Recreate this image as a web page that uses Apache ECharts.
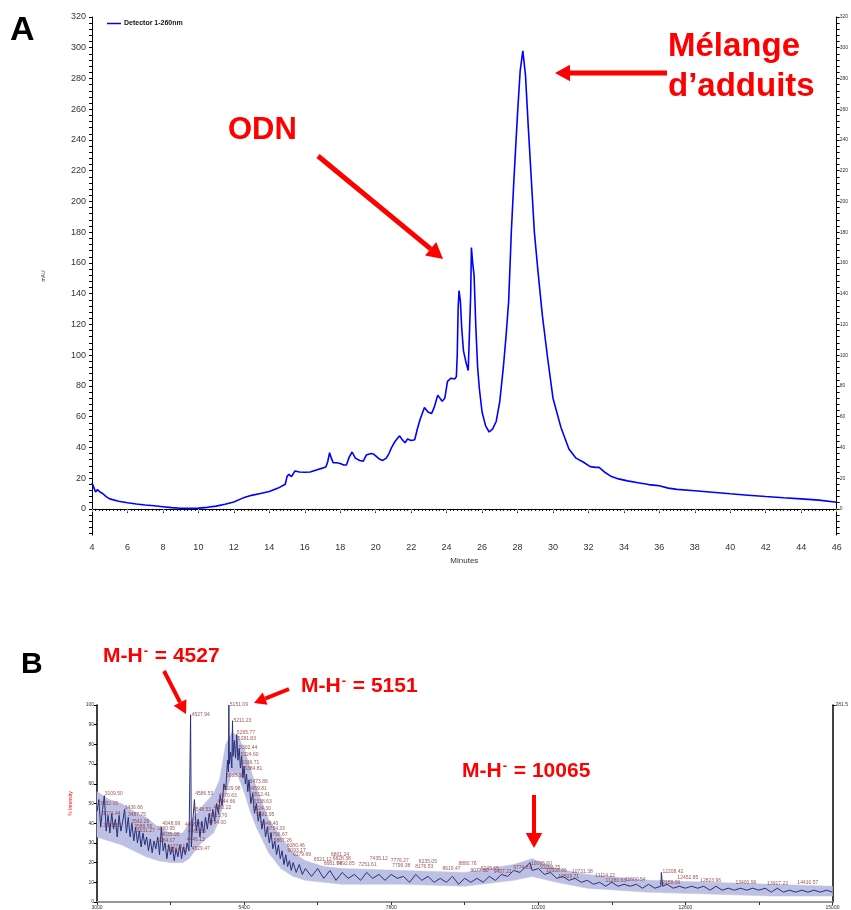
<!DOCTYPE html>
<html>
<head>
<meta charset="utf-8">
<script src="https://cdn.jsdelivr.net/npm/echarts@6/dist/echarts.min.js"></script>
<style>
  html, body { margin: 0; padding: 0; background: #fff; }
  #chart { width: 851px; height: 910px; }
</style>
</head>
<body>
<div id="chart"></div>
<script>
// chromatogram (panel A): minutes / mAU
var chromT = [
  4.0, 4.1, 4.2, 4.3, 4.45, 4.6, 4.8, 5.0, 5.5, 6,
  6.5, 7, 7.5, 8, 8.5, 9, 9.5, 10, 10.5, 11,
  11.5, 12, 12.5, 13, 13.5, 14, 14.5, 14.9, 15.0, 15.1,
  15.25, 15.45, 15.7, 16.0, 16.3, 16.7, 17.0, 17.2, 17.3, 17.4,
  17.5, 17.6, 17.8, 18.0, 18.2, 18.35, 18.5, 18.67, 18.85, 19.1,
  19.3, 19.47, 19.6, 19.75, 19.9, 20.05, 20.2, 20.4, 20.6, 20.75,
  20.9, 21.1, 21.35, 21.5, 21.65, 21.8, 22.0, 22.2, 22.35, 22.5,
  22.75, 22.95, 23.15, 23.3, 23.5, 23.75, 23.9, 24.05, 24.25, 24.45,
  24.55, 24.6, 24.65, 24.7, 24.78, 24.85, 24.95, 25.1, 25.22, 25.3,
  25.36, 25.4, 25.47, 25.55, 25.65, 25.75, 25.85, 26.0, 26.2, 26.4,
  26.6, 26.8, 27.0, 27.2, 27.35, 27.5, 27.65, 27.8, 28.0, 28.15,
  28.3, 28.45, 28.6, 28.75, 28.95, 29.15, 29.4, 29.7, 30.0, 30.45,
  30.9, 31.3, 31.7, 32.1, 32.4, 32.6, 32.9, 33.3, 33.7, 34.2,
  34.8, 35.4, 35.8, 36.0, 36.5, 37, 38, 39, 40, 41,
  42, 43, 44, 45, 46
];
var chromA = [
  17, 14, 11, 12.5, 11, 10, 8, 6.5, 5, 4,
  3.2, 2.5, 2, 1.4, 0.8, 0.4, 0.3, 0.5, 1, 1.8,
  3, 4.5, 7, 8.8, 10, 11.3, 13.5, 16, 21, 22.5,
  21, 24.7, 24, 23.8, 24, 25.5, 26.5, 27.4, 31, 36.5,
  33, 30, 30, 29.5, 28.5, 28.5, 33.5, 37, 33, 31.5,
  31, 35, 35.5, 36, 35.5, 34, 32.5, 31.5, 33, 36,
  40, 44, 47.5, 45, 43, 45.4, 44.5, 45, 52, 58,
  66, 63, 62, 66, 74, 70, 72, 83, 85, 84.5,
  86, 100, 130, 142, 135, 118, 103, 95, 90, 91,
  140, 170, 160, 152, 118, 92, 78, 63, 54, 50,
  52, 57, 70, 92, 112, 135, 180, 215, 257, 285,
  298, 282, 250, 220, 180, 155, 126, 98, 72, 53,
  39, 33, 30.5, 27.5, 27, 27, 24, 21, 19.5, 18.2,
  17, 15.8, 15.3, 15, 13.5, 12.7, 11.8, 10.8, 9.8, 8.9,
  8, 7.2, 6.5, 5.7, 4.3
];

// mass spectrum (panel B): m/z / % intensity
var specM = [
  3000, 3030, 3060, 3090, 3120, 3150, 3180, 3210, 3240, 3270,
  3300, 3330, 3360, 3390, 3420, 3450, 3480, 3510, 3540, 3570,
  3600, 3630, 3660, 3690, 3720, 3750, 3780, 3810, 3840, 3870,
  3900, 3930, 3960, 3990, 4020, 4050, 4080, 4110, 4140, 4170,
  4200, 4230, 4260, 4290, 4320, 4350, 4380, 4410, 4440, 4470,
  4500, 4515, 4527, 4540, 4560, 4590, 4620, 4650, 4680, 4710,
  4740, 4770, 4800, 4830, 4860, 4890, 4920, 4950, 4980, 5010,
  5040, 5070, 5100, 5130, 5145, 5151, 5160, 5180, 5200, 5211,
  5220, 5240, 5260, 5280, 5300, 5320, 5340, 5360, 5380, 5400,
  5420, 5440, 5460, 5480, 5510, 5540, 5570, 5600, 5630, 5660,
  5690, 5720, 5750, 5780, 5810, 5840, 5870, 5900, 5930, 5960,
  5990, 6020, 6050, 6080, 6110, 6140, 6170, 6200, 6250, 6300,
  6350, 6400, 6500, 6600, 6700, 6800, 6900, 7000, 7100, 7200,
  7300, 7400, 7500, 7600, 7700, 7800, 7900, 8000, 8100, 8200,
  8300, 8400, 8500, 8600, 8700, 8800, 8900, 9000, 9100, 9200,
  9300, 9400, 9500, 9600, 9700, 9800, 9900, 10000, 10065, 10100,
  10200, 10300, 10400, 10500, 10600, 10700, 10800, 10900, 11000, 11100,
  11200, 11300, 11400, 11500, 11600, 11700, 11800, 11900, 12000, 12100,
  12200, 12208, 12230, 12300, 12400, 12500, 12600, 12700, 12800, 12900,
  13000, 13100, 13200, 13300, 13400, 13500, 13600, 13700, 13800, 13900,
  14000, 14100, 14200, 14300, 14400, 14500, 14600, 14700, 14800, 14900,
  15000
];
var specI = [
  46, 52, 38, 47, 54, 36, 44, 35, 45, 37,
  42, 33, 44, 36, 41, 47, 35, 43, 33, 40,
  31, 38, 30, 36, 28, 35, 29, 33, 26, 32,
  25, 31, 27, 33, 24, 38, 26, 30, 22, 29,
  24, 28, 21, 27, 23, 29, 22, 28, 24, 30,
  26, 27, 95, 28, 40, 52, 36, 42, 33, 41,
  35, 43, 37, 45, 39, 47, 41, 50, 45, 54,
  49, 60, 57, 72, 66, 100, 70, 76, 68, 92,
  74, 82, 73, 85, 72, 78, 68, 74, 63, 69,
  60, 65, 56, 62, 50, 55, 45, 50, 41, 46,
  37, 42, 33, 38, 30, 35, 27, 31, 24, 29,
  22, 26, 19, 24, 18, 21, 16, 20, 15, 19,
  14, 17, 13, 17, 12, 16, 11, 15, 12, 14,
  11, 15, 12, 14, 11, 14, 12, 13, 10, 14,
  11, 13, 10, 12, 10, 13, 9, 12, 10, 12,
  10, 13, 11, 14, 13, 16, 15, 18, 20, 16,
  17, 14, 15, 12, 13, 11, 12, 10, 11, 9,
  10, 8, 10, 8, 9, 8, 9, 7, 9, 7,
  8, 15, 8, 9, 7, 8, 7, 8, 7, 8,
  6, 8, 6, 7, 6, 7, 6, 7, 6, 7,
  5, 7, 5, 6, 5, 6, 5, 6, 5, 6,
  5
];

// light noise band around the spectrum
var bandM    = [3000, 3200, 3400, 3600, 3800, 4000, 4200, 4400, 4500, 4700, 4900, 5000, 5100, 5200, 5300, 5400, 5500, 5600, 5800, 6000, 6200, 6400, 6700, 7000, 8000, 9000, 9800, 10100, 10500, 11000, 12000, 13000, 14000, 15000];
var bandLow  = [33, 31, 29, 26, 23, 21, 20, 20, 22, 30, 35, 42, 55, 66, 64, 56, 46, 38, 25, 17, 13, 11, 10, 9, 9, 8, 11, 13, 10, 7, 5, 4, 3, 3];
var bandHigh = [56, 52, 50, 46, 43, 38, 35, 35, 40, 48, 55, 62, 80, 86, 84, 78, 68, 58, 42, 33, 25, 21, 18, 17, 16, 15, 19, 22, 17, 14, 11, 10, 9, 8];

// peak labels printed on the spectrum
var peakM = [3032.16, 3071.44, 3085.63, 3109.50, 3436.66, 3487.75, 3542.29, 3589.56, 3631.27, 4048.99,
  3960.95, 4035.95, 3964.17, 4127.31, 4157.50, 4527.94, 4586.53, 4548.53, 4418.76, 4462.30,
  4446.13, 4529.47, 4815.70, 4794.00, 4880.22, 4944.66, 4970.63, 5029.98, 5088.38, 5151.09,
  5211.23, 5265.77, 5281.83, 5302.44, 5324.60, 5336.71, 5384.81, 5473.86, 5459.81, 5512.41,
  5538.63, 5524.30, 5582.95, 5648.40, 5754.33, 5796.67, 5867.26, 6080.46, 6093.17, 6179.69,
  6521.12, 6681.74, 6801.24, 6828.38, 6892.85, 7435.12, 7251.61, 7776.27, 7799.38, 8235.05,
  8176.53, 8619.47, 8880.76, 9077.90, 9245.65, 9457.21, 9774.83, 10065.60, 10202.75, 10308.66,
  10731.38, 10509.71, 11114.22, 11280.63, 11600.54, 12208.42, 12159.06, 12452.85, 12823.96, 13400.96,
  13917.23, 14410.57];
var peakI = [50, 45, 39, 55, 48, 44.5, 41, 38.5, 36, 40,
  37, 34, 31, 28, 26, 95, 55, 47, 39.5, 35.5,
  31.5, 27, 44, 40.5, 48, 51, 54, 57.5, 64, 100,
  92, 86, 83, 78.5, 75, 71, 67.5, 61, 57.5, 54.5,
  51, 47.5, 44.5, 40, 37, 34, 31, 28.5, 26, 24,
  21.5, 19.5, 24, 22, 19.5, 22, 19, 21, 18.5, 20.5,
  18, 17, 19.5, 16, 17, 15.5, 17.5, 19.5, 17.5, 16,
  15.5, 13, 13.5, 11, 11.5, 15.5, 10, 12.5, 11, 10,
  9.5, 10];

var yTicksA = [0, 20, 40, 60, 80, 100, 120, 140, 160, 180, 200, 220, 240, 260, 280, 300, 320];
var xTicksB = [3000, 5400, 7800, 10200, 12600, 15000];

var FONT = 'Liberation Sans, Arial, sans-serif';
var RED = '#ff0000';

var minorA = [];
for (var v = -16; v <= 320; v += 4) minorA.push(v);
var minorB = [];
for (var m = 3000; m <= 15000; m += 1200) minorB.push(m);

function zip(a, b) {
  var out = [];
  for (var i = 0; i < a.length; i++) out.push([a[i], b[i]]);
  return out;
}

function arrow(x1, y1, x2, y2, w, head) {
  var dx = x2 - x1, dy = y2 - y1, L = Math.sqrt(dx * dx + dy * dy);
  var ux = dx / L, uy = dy / L;
  var bx = x2 - ux * head, by = y2 - uy * head;
  var hw = head * 0.55;
  return [
    { type: 'line', shape: { x1: x1, y1: y1, x2: bx, y2: by }, style: { stroke: RED, lineWidth: w } },
    { type: 'polygon', shape: { points: [[x2, y2], [bx - uy * hw, by + ux * hw], [bx + uy * hw, by - ux * hw]] }, style: { fill: RED } }
  ];
}

function mh(txt, left, top) {
  return {
    type: 'text', left: left, top: top,
    style: {
      text: '{a|M-H}{s|-}{a| = ' + txt + '}',
      rich: {
        a: { fontFamily: FONT, fontWeight: 'bold', fontSize: 21, fill: RED },
        s: { fontFamily: FONT, fontWeight: 'bold', fontSize: 13, fill: RED, padding: [0, 1, 10, 1] }
      }
    }
  };
}

var myChart = echarts.init(document.getElementById('chart'));

// band quads between neighbouring points, drawn through the axis scale
function renderBand(params, api) {
  var i = params.dataIndex;
  if (i >= bandM.length - 1) return null;
  var p1 = api.coord([bandM[i], bandHigh[i]]);
  var p2 = api.coord([bandM[i + 1], bandHigh[i + 1]]);
  var p3 = api.coord([bandM[i + 1], bandLow[i + 1]]);
  var p4 = api.coord([bandM[i], bandLow[i]]);
  return {
    type: 'polygon',
    shape: { points: [p1, p2, p3, p4] },
    style: { fill: '#bcc0e3', stroke: '#bcc0e3', lineWidth: 0.5 }
  };
}

var bandData = [];
for (var k = 0; k < bandM.length; k++) bandData.push([bandM[k], bandLow[k], bandHigh[k]]);

var peakData = [];
for (var p = 0; p < peakM.length; p++) peakData.push([peakM[p], peakI[p], peakM[p].toFixed(2)]);

var graphics = [
  { type: 'text', left: 10, top: 14, style: { text: 'A', fontFamily: FONT, fontWeight: 'bold', fontSize: 34, fill: '#000' } },
  { type: 'text', left: 21, top: 650, style: { text: 'B', fontFamily: FONT, fontWeight: 'bold', fontSize: 30, fill: '#000' } },
  { type: 'text', left: 228, top: 115, style: { text: 'ODN', fontFamily: FONT, fontWeight: 'bold', fontSize: 31, fill: RED } },
  { type: 'text', left: 668, top: 30, style: { text: 'Mélange', fontFamily: FONT, fontWeight: 'bold', fontSize: 33, fill: RED } },
  { type: 'text', left: 668, top: 70, style: { text: 'd\u2019adduits', fontFamily: FONT, fontWeight: 'bold', fontSize: 33, fill: RED } },
  mh('4527', 103, 645),
  mh('5151', 301, 675),
  mh('10065', 462, 760)
];
graphics = graphics
  .concat(arrow(318, 156, 443, 259, 5, 16))
  .concat(arrow(667, 73, 555, 73, 5, 15))
  .concat(arrow(164, 671, 186, 714, 4, 13))
  .concat(arrow(289, 689, 254, 703, 4, 12))
  .concat(arrow(534, 795, 534, 848, 4, 15));

var option = {
  animation: false,
  backgroundColor: '#fff',
  textStyle: { fontFamily: FONT },
  legend: {
    data: ['Detector 1-260nm'],
    left: 102, top: 15,
    icon: 'rect', itemWidth: 14, itemHeight: 1.5, itemGap: 4,
    textStyle: { fontSize: 7, fontWeight: 'bold', color: '#111', padding: [0, 0, 0, -2] }
  },
  grid: [
    { left: 92, right: 13, top: 17, height: 518 },
    { left: 97, right: 14, top: 705, height: 197 }
  ],
  xAxis: [
    {
      gridIndex: 0, type: 'value', min: 4, max: 46, interval: 2, position: 'bottom',
      axisLine: { lineStyle: { color: '#000', width: 1 } },
      axisTick: { length: 4, lineStyle: { color: '#000' } },
      minorTick: { show: true, splitNumber: 10, length: 2, lineStyle: { color: '#000' } },
      splitLine: { show: false },
      axisLabel: { fontSize: 9, color: '#333', margin: 8 },
      name: 'Minutes', nameLocation: 'middle', nameGap: 20,
      nameTextStyle: { fontSize: 8, color: '#333' }
    },
    {
      gridIndex: 0, type: 'value', min: 4, max: 46, interval: 2, position: 'top',
      axisLine: { lineStyle: { color: '#000', width: 1 } },
      axisTick: { inside: true, length: 3, lineStyle: { color: '#999' } },
      splitLine: { show: false },
      axisLabel: { show: false }
    },
    {
      gridIndex: 1, type: 'value', min: 3000, max: 15000,
      axisLine: { lineStyle: { color: '#999', width: 2 } },
      axisTick: { customValues: minorB, length: 3, lineStyle: { color: '#333' } },
      splitLine: { show: false },
      axisLabel: { customValues: xTicksB, fontSize: 5, color: '#333', margin: 3, formatter: function (v) { return String(v); } }
    }
  ],
  yAxis: [
    {
      gridIndex: 0, type: 'value', min: -17, max: 320, position: 'left',
      axisLine: { show: true, lineStyle: { color: '#000', width: 1 } },
      axisTick: { show: true, customValues: minorA, length: 3, lineStyle: { color: '#000' } },
      splitLine: { show: false },
      axisLabel: { customValues: yTicksA, fontSize: 9, color: '#333', margin: 6 },
      name: 'mAU', nameLocation: 'middle', nameGap: 46,
      nameTextStyle: { fontSize: 5, color: '#333' }
    },
    {
      gridIndex: 0, type: 'value', min: -17, max: 320, position: 'right',
      axisLine: { show: true, lineStyle: { color: '#000', width: 1 } },
      axisTick: { show: true, customValues: minorA, length: 3, lineStyle: { color: '#000' } },
      splitLine: { show: false },
      axisLabel: { customValues: yTicksA, fontSize: 5, color: '#333', margin: 3 }
    },
    {
      gridIndex: 1, type: 'value', min: 0, max: 100, interval: 10, position: 'left',
      axisLine: { show: true, lineStyle: { color: '#000', width: 1.5 } },
      axisTick: { show: true, length: 3, lineStyle: { color: '#000' } },
      splitLine: { show: false },
      axisLabel: { fontSize: 5, color: '#333', margin: 3 },
      name: '% Intensity', nameLocation: 'middle', nameGap: 24,
      nameTextStyle: { fontSize: 5, color: RED }
    },
    {
      gridIndex: 1, type: 'value', min: 0, max: 281.5, position: 'right',
      axisLine: { show: true, lineStyle: { color: '#000', width: 1.5 } },
      axisTick: { show: true, customValues: [281.5], length: 3, lineStyle: { color: '#000' } },
      splitLine: { show: false },
      axisLabel: { customValues: [281.5], fontSize: 5, color: '#333', margin: 3, formatter: function (v) { return v.toFixed(1); } }
    }
  ],
  series: [
    {
      name: 'Detector 1-260nm', type: 'line', xAxisIndex: 0, yAxisIndex: 0,
      data: zip(chromT, chromA), symbol: 'none', smooth: false,
      itemStyle: { color: '#0000ff' },
      lineStyle: { color: '#0000ff', width: 1.6 }
    },
    {
      name: 'band', type: 'custom', xAxisIndex: 2, yAxisIndex: 2,
      data: bandData, renderItem: renderBand, silent: true, z: 1
    },
    {
      name: 'spectrum', type: 'line', xAxisIndex: 2, yAxisIndex: 2,
      data: zip(specM, specI), symbol: 'none', z: 2,
      lineStyle: { color: '#28307a', width: 1 }
    },
    {
      name: 'peaks', type: 'scatter', xAxisIndex: 2, yAxisIndex: 2,
      data: peakData, symbolSize: 0, silent: true, z: 3,
      label: {
        show: true, position: 'right', distance: 1,
        fontSize: 5, color: '#8a2a2a',
        formatter: function (d) { return d.value[2]; }
      }
    }
  ],
  graphic: graphics
};

myChart.setOption(option);
</script>
</body>
</html>
